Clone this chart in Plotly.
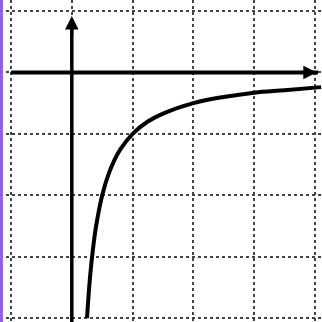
import plotly.graph_objects as go

# Curve points (grid units)
curve_x = [0.25, 0.3, 0.35, 0.4, 0.5, 0.6, 0.7, 0.8, 1.0, 1.25, 1.5, 2.0, 2.5, 3.0, 3.5, 4.1]
curve_y = [-4.0, -3.33, -2.86, -2.5, -2.0, -1.67, -1.43, -1.25, -1.0, -0.8, -0.67, -0.5, -0.4, -0.33, -0.29, -0.24]

grid_ticks_x = [-1, 0, 1, 2, 3, 4]
grid_ticks_y = [-4, -3, -2, -1, 0, 1]

fig = go.Figure()
fig.add_trace(go.Scatter(x=curve_x, y=curve_y, mode="lines",
                         line=dict(color="black", width=4, shape="spline"),
                         hoverinfo="skip", showlegend=False))

# axes lines
fig.add_shape(type="line", x0=-1, x1=4.05, y0=0, y1=0, line=dict(color="black", width=4))
fig.add_shape(type="line", x0=0, x1=0, y0=-4.2, y1=0.85, line=dict(color="black", width=3.5))
# arrowheads
fig.add_annotation(x=4.03, y=0, ax=3.7, ay=0, xref="x", yref="y", axref="x", ayref="y",
                   text="", showarrow=True, arrowhead=2, arrowsize=0.9, arrowwidth=3, arrowcolor="black")
fig.add_annotation(x=0, y=0.92, ax=0, ay=0.6, xref="x", yref="y", axref="x", ayref="y",
                   text="", showarrow=True, arrowhead=2, arrowsize=0.9, arrowwidth=3, arrowcolor="black")

# purple scan strip at left
fig.add_shape(type="rect", xref="paper", yref="paper", x0=0, x1=0.009, y0=0, y1=1,
              line=dict(width=0), fillcolor="#8f5cf0")

fig.update_layout(
    width=322, height=322, margin=dict(l=0, r=0, t=0, b=0),
    paper_bgcolor="white", plot_bgcolor="white",
    xaxis=dict(range=[-1.181, 4.115], tickvals=grid_ticks_x, showticklabels=False,
               showgrid=True, gridcolor="#444444", gridwidth=1.5, griddash="dot",
               zeroline=False, showline=False, fixedrange=True),
    yaxis=dict(range=[-4.065, 1.179], tickvals=grid_ticks_y, showticklabels=False,
               showgrid=True, gridcolor="#444444", gridwidth=1.5, griddash="dot",
               zeroline=False, showline=False, fixedrange=True),
)

fig.write_html("out.html", config={"displayModeBar": False},
               post_script="document.body.style.margin='0';document.body.style.overflow='hidden';")
